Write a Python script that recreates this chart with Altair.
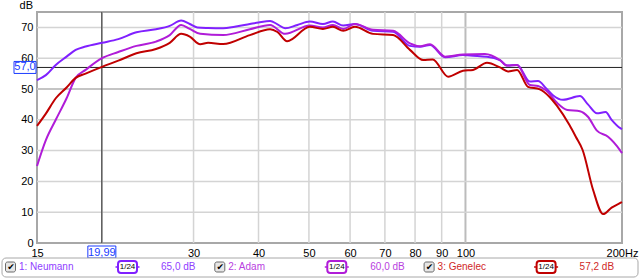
import altair as alt
import pandas as pd

# ---------------- data ----------------
neumann_f = [15, 15.6, 16.3, 17.1, 17.8, 18.6, 20, 21.5, 23.3, 25.4, 27, 28.4, 29.5, 30.5, 32, 34.2,
             36, 38.5, 40, 42.1, 43.5, 45, 47.5, 50.2, 53.2, 55.6, 58.2, 61.3, 66.4, 72.6, 78.2,
             81.8, 85.5, 91.4, 98.9, 106.7, 110, 116.5, 120.2, 125.7, 133, 137.9, 143, 147.3, 154,
             166, 172, 179, 186, 191, 198.5, 200]
neumann_db = [52.9, 54.5, 57.8, 60.5, 62.7, 63.8, 65.0, 66.2, 68.4, 69.4, 70.5, 72.2, 71.1, 70.0, 69.8, 69.7,
              70.2, 71.1, 71.6, 72.1, 71.0, 69.7, 70.8, 71.9, 71.1, 71.9, 70.6, 71.1, 68.9, 68.6, 64.0,
              63.7, 64.3, 60.3, 61.0, 60.6, 60.5, 59.4, 57.6, 57.8, 52.4, 52.6, 50.2, 48.0, 46.5,
              47.7, 45.0, 42.1, 42.5, 40.0, 37.3, 37.0]

adam_f = [15, 15.6, 16.3, 17.1, 17.8, 18.6, 20, 21.5, 23.3, 25.4, 27, 28.4, 29.5, 30.9, 34.2,
          38.5, 42.1, 45, 50.2, 53.2, 55.6, 58.2, 61.3, 66.4, 72.6, 78.2, 81.8, 85.5, 91.4, 98.9,
          109, 116.5, 120.2, 125.7, 133, 137.9, 143, 150, 157, 166, 172, 179, 188, 198.5, 200]
adam_db = [25.0, 33.4, 40.0, 47.0, 53.6, 56.2, 60.0, 62.0, 64.0, 65.4, 67.5, 70.8, 69.5, 67.9, 67.5,
           69.4, 70.8, 67.9, 70.6, 70.0, 70.8, 69.5, 71.1, 69.2, 68.9, 64.8, 63.9, 64.5, 60.5, 61.2,
           61.4, 59.4, 57.6, 57.8, 51.3, 51.0, 49.5, 45.5, 43.2, 42.8, 41.0, 36.5, 34.5, 30.0, 29.2]

genelec_f = [15, 15.6, 16.3, 17.1, 17.8, 18.6, 20, 21.5, 23.3, 25.4, 27, 28.4, 29.5, 30.9, 32, 34.2,
             38.5, 42.1, 43.5, 45.4, 50.2, 53.2, 55.6, 58.2, 61.3, 66.4, 72.6, 78.2, 82.9, 86.5,
             92.6, 98.9, 103.4, 110, 116.5, 120.7, 125.7, 131.9, 139, 145, 150, 158.5, 163, 168,
             176, 184, 191, 198.5, 200]
genelec_db = [38.0, 42.0, 47.0, 50.5, 53.6, 55.0, 57.2, 59.2, 61.6, 63.0, 65.0, 67.9, 67.0, 64.5, 65.0, 64.6,
              67.5, 69.4, 68.5, 65.5, 70.2, 69.5, 70.2, 68.9, 70.2, 67.9, 67.5, 62.7, 59.4, 59.6,
              54.0, 55.9, 56.2, 58.5, 57.0, 55.7, 56.2, 50.7, 49.9, 47.5, 44.5, 38.3, 34.5, 30.2,
              17.2, 9.4, 11.5, 13.0, 13.3]

series_names = ["1: Neumann", "2: Adam", "3: Genelec"]
series_levels = ["65,0 dB", "60,0 dB", "57,2 dB"]
smoothing = ["1/24", "1/24", "1/24"]

x_ticks = [15, 30, 40, 50, 60, 70, 80, 90, 100, 200]
y_ticks = [0, 10, 20, 30, 40, 50, 60, 70]
x_grid_minor = [20, 30, 40, 50, 60, 70, 80, 90]
x_grid_major = [100]
y_grid_minor = [10, 20, 30, 40, 60, 70]
y_grid_major = [50]

cursor_f = 19.99
cursor_db = 57.0
cursor_f_label = "19,99"
cursor_db_label = "57,0"

# ---------------- styling ----------------
colors = ["#8020ff", "#b01cd8", "#c00000"]
text_colors = ["#9040ff", "#b840e0", "#d02828"]
FONT = "Liberation Sans"
W, H = 585, 231
PL, PT = 37, 12

xs = alt.Scale(type="log", domain=[15, 200], nice=False)
ys = alt.Scale(domain=[0, 75], nice=False, zero=False)

AX_X = alt.Axis(values=x_ticks, labelOverlap=False, labelFlush=False, labelPadding=4,
                grid=False, ticks=False, domain=False,
                labelExpr="datum.value == 200 ? '200Hz' : format(datum.value, 'd')")
AX_Y = alt.Axis(values=y_ticks, labelOverlap=False, labelFlush=False, labelPadding=4,
                grid=False, ticks=False, domain=False,
                labelExpr="format(datum.value, 'd')")

X = lambda: alt.X("f:Q", scale=xs, title=None, axis=AX_X)
Y = lambda: alt.Y("db:Q", scale=ys, title=None, axis=AX_Y)


def df(f, db, name):
    return pd.DataFrame({"f": f, "db": db, "name": name})


frames = [df(neumann_f, neumann_db, series_names[0]),
          df(adam_f, adam_db, series_names[1]),
          df(genelec_f, genelec_db, series_names[2])]

layers = []

# grid
def vgrid(vals, color, width):
    return alt.Chart(pd.DataFrame({"f": vals})).mark_rule(color=color, strokeWidth=width).encode(x=X())

def hgrid(vals, color, width):
    return alt.Chart(pd.DataFrame({"db": vals})).mark_rule(color=color, strokeWidth=width).encode(y=Y())

layers += [vgrid(x_grid_minor, "#d4d4d4", 1.5), vgrid(x_grid_major, "#bcbcbc", 2),
           hgrid(y_grid_minor, "#d4d4d4", 1.5), hgrid(y_grid_major, "#c4c4c4", 2)]

# cursor lines
layers.append(alt.Chart(pd.DataFrame({"f": [cursor_f]})).mark_rule(color="#202020", strokeWidth=1).encode(x=X()))
layers.append(alt.Chart(pd.DataFrame({"db": [cursor_db]})).mark_rule(color="#202020", strokeWidth=1).encode(y=Y()))

# curves
for fr, c in zip(frames, colors):
    layers.append(alt.Chart(fr).mark_line(color=c, strokeWidth=2, interpolate="monotone").encode(
        x=X(), y=Y()))

# dB title
layers.append(alt.Chart(pd.DataFrame({"t": ["dB"]})).mark_text(
    font=FONT, fontSize=11, align="right", baseline="middle", color="#000000").encode(
    x=alt.value(33 - PL), y=alt.value(6 - PT), text="t:N"))

# cursor labels
BLUE = "#1a3cff"
cf = pd.DataFrame({"f": [cursor_f], "t": [cursor_f_label]})
layers.append(alt.Chart(cf).mark_rect(fill="white", stroke=BLUE, strokeWidth=1, xOffset=-14, x2Offset=14).encode(
    x=X(), x2="f:Q", y=alt.value(246 - PT), y2=alt.value(258 - PT)))
layers.append(alt.Chart(cf).mark_text(font=FONT, fontSize=11, color=BLUE, baseline="middle").encode(
    x=X(), y=alt.value(252.5 - PT), text="t:N"))

cd = pd.DataFrame({"db": [cursor_db], "t": [cursor_db_label]})
layers.append(alt.Chart(cd).mark_rect(fill="white", stroke=BLUE, strokeWidth=1, yOffset=-6, y2Offset=6).encode(
    y=Y(), y2="db:Q", x=alt.value(14 - PL), x2=alt.value(36 - PL)))
layers.append(alt.Chart(cd).mark_text(font=FONT, fontSize=11, color=BLUE, baseline="middle").encode(
    y=Y(), x=alt.value(25 - PL), text="t:N"))

# bottom legend bar
one = pd.DataFrame({"a": [0]})
layers.append(alt.Chart(one).mark_rect(fill="white", stroke="#a8a8a8", strokeWidth=1, cornerRadius=4).encode(
    x=alt.value(2 - PL), x2=alt.value(638 - PL), y=alt.value(258 - PT), y2=alt.value(277 - PT)))

LY = 267 - PT
for i in range(3):
    x0 = 10.5 + 209.3 * i - PL
    cb = alt.Chart(one).mark_rect(fill="#e6e6e6", stroke="#6a6a6a", strokeWidth=1, cornerRadius=2).encode(
        x=alt.value(x0 - 5), x2=alt.value(x0 + 5), y=alt.value(LY - 5), y2=alt.value(LY + 5))
    ck = alt.Chart(pd.DataFrame({"t": ["✔"]})).mark_text(font="DejaVu Sans", fontSize=9, color="#000000",
                                                          baseline="middle").encode(
        x=alt.value(x0 + 0.5), y=alt.value(LY), text="t:N")
    nm = alt.Chart(pd.DataFrame({"t": [series_names[i]]})).mark_text(
        font=FONT, fontSize=10, color=text_colors[i], align="left", baseline="middle").encode(
        x=alt.value(x0 + 8.5), y=alt.value(LY), text="t:N")
    bx = x0 + 117
    wh = alt.Chart(one).mark_rule(color=colors[i], strokeWidth=1.5).encode(
        x=alt.value(bx - 12), x2=alt.value(bx + 12), y=alt.value(LY))
    box = alt.Chart(one).mark_rect(fill="white", stroke=colors[i], strokeWidth=2, cornerRadius=3).encode(
        x=alt.value(bx - 9.5), x2=alt.value(bx + 9.5), y=alt.value(LY - 6), y2=alt.value(LY + 6))
    sm = alt.Chart(pd.DataFrame({"t": [smoothing[i]]})).mark_text(
        font=FONT, fontSize=8, color="#000000", baseline="middle").encode(
        x=alt.value(bx), y=alt.value(LY), text="t:N")
    lv = alt.Chart(pd.DataFrame({"t": [series_levels[i]]})).mark_text(
        font=FONT, fontSize=10, color=text_colors[i], align="left", baseline="middle").encode(
        x=alt.value(x0 + 150.5), y=alt.value(LY), text="t:N")
    layers += [cb, ck, nm, wh, box, sm, lv]

chart = alt.layer(*layers).properties(
    width=W, height=H,
    autosize=alt.AutoSizeParams(type="none"),
    padding={"left": PL, "top": PT, "right": 640 - PL - W, "bottom": 278 - PT - H},
    background="white",
).configure_view(
    stroke="#a8a8a8", strokeWidth=2
).configure_axis(
    labelFontSize=11, labelFont=FONT, labelColor="#000000"
)

chart.save("out.html", embed_options={"renderer": "svg", "actions": False})
